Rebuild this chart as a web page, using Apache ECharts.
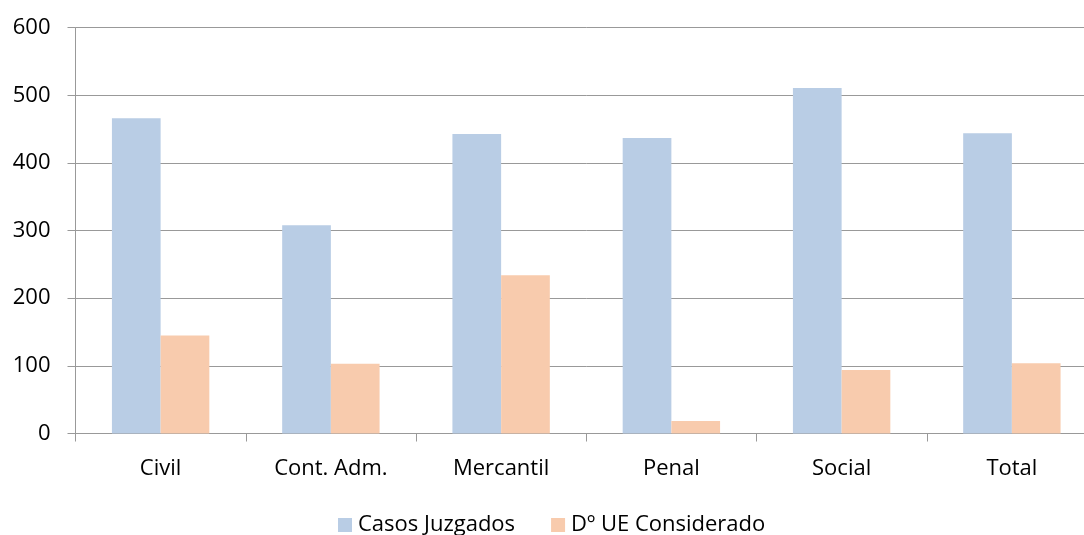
<!DOCTYPE html>
<html>
<head>
<meta charset="utf-8">
<script src="https://cdn.jsdelivr.net/npm/echarts@6/dist/echarts.min.js"></script>
<style>
html,body{margin:0;padding:0;background:#fff;overflow:hidden;width:1084px;height:535px;}
#chart{width:1100px;height:535px;}
</style>
</head>
<body>
<div id="chart"></div>
<script>
var categories = ['Civil', 'Cont. Adm.', 'Mercantil', 'Penal', 'Social', 'Total'];
var casosJuzgados = [466, 308, 443, 437, 511, 444];
var dUEConsiderado = [145, 103, 234, 18.5, 94, 104];
var yTicks = [0, 100, 200, 300, 400, 500, 600];

var chart = echarts.init(document.getElementById('chart'), null, {renderer: 'canvas'});
var font = 'Open Sans';
chart.setOption({
  animation: false,
  backgroundColor: '#fff',
  grid: {left: 75.5, width: 1021.5, top: 27.7, height: 405.8, containLabel: false, outerBoundsMode: 'none'},
  legend: {
    top: 514,
    left: 338,
    padding: 0,
    itemWidth: 14,
    itemHeight: 14,
    itemGap: 36,
    icon: 'rect',
    textStyle: {fontFamily: font, fontSize: 22, color: '#000', padding: [0, 0, 0, 1]},
    data: ['Casos Juzgados', 'Dº UE Considerado']
  },
  xAxis: {
    type: 'category',
    data: categories,
    axisLine: {lineStyle: {color: '#999', width: 1}},
    axisTick: {show: true, length: 8, alignWithLabel: false, lineStyle: {color: '#999'}},
    axisLabel: {fontFamily: font, fontSize: 22, color: '#000', margin: 24}
  },
  yAxis: {
    type: 'value',
    min: yTicks[0],
    max: yTicks[yTicks.length - 1],
    interval: 100,
    axisLine: {show: true, lineStyle: {color: '#999', width: 1}},
    axisTick: {show: true, length: 8, lineStyle: {color: '#999'}},
    splitLine: {lineStyle: {color: '#999', width: 1}},
    axisLabel: {fontFamily: font, fontSize: 22, color: '#000', margin: 25}
  },
  series: [
    {
      name: 'Casos Juzgados',
      type: 'bar',
      data: casosJuzgados,
      barWidth: 48.7,
      barGap: '0%',
      itemStyle: {color: '#B9CDE5'}
    },
    {
      name: 'Dº UE Considerado',
      type: 'bar',
      data: dUEConsiderado,
      barWidth: 48.7,
      barGap: '0%',
      itemStyle: {color: '#F8CBAD'}
    }
  ]
});
</script>
</body>
</html>
